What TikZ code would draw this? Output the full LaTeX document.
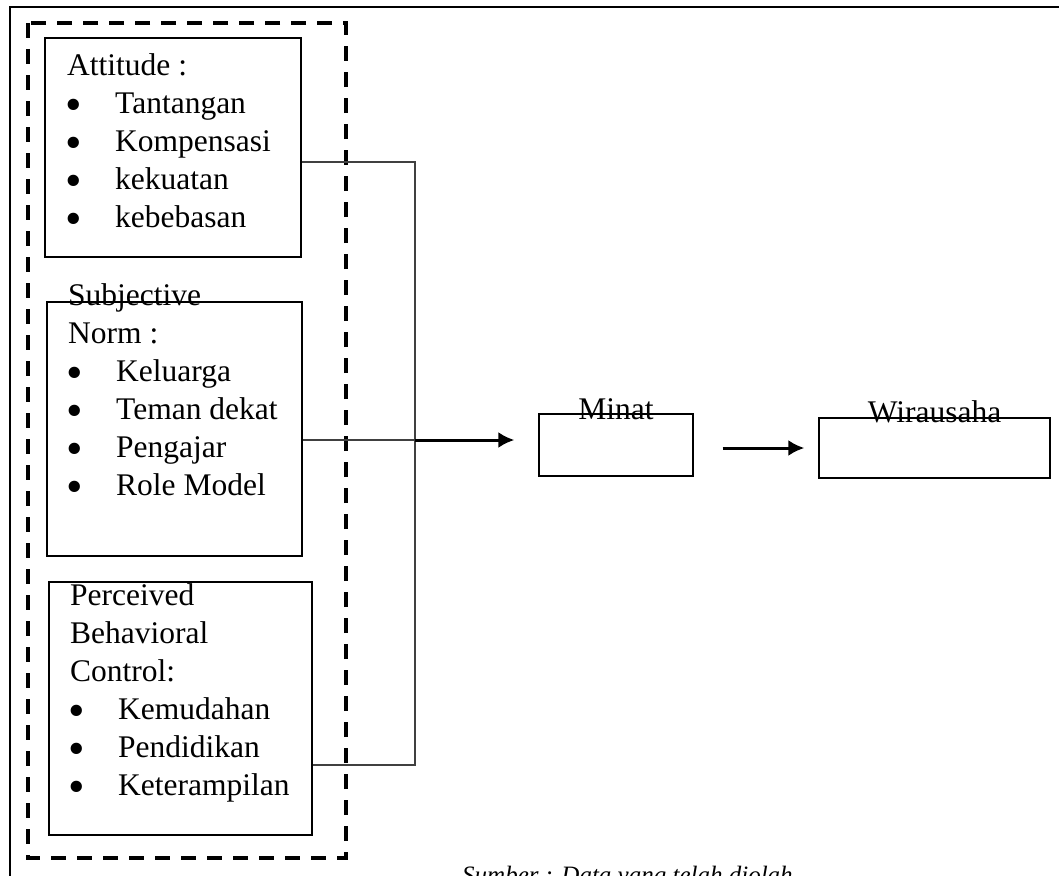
\documentclass[tikz,border=0pt]{standalone}
\usepackage{fontspec}
\usepackage{graphicx}
\setmainfont{Liberation Serif}
\usetikzlibrary{arrows.meta}
\newcommand{\itembul}{\makebox[48pt][l]{\hspace{-2pt}\raisebox{-7.5pt}[0pt][0pt]{\scalebox{1.5}{•}}}}
\begin{document}
\begin{tikzpicture}[x=1pt,y=-1pt,
  box/.style={draw, line width=1.3pt, rectangle, inner sep=0pt},
  txt/.style={inner sep=0pt, font=\fontsize{31.5}{38}\selectfont},
  conn/.style={draw=black!75, line width=1.2pt},
  arr/.style={line width=3pt, -{Latex[length=16pt,width=16pt]}},
]
\useasboundingbox (0,0) rectangle (1059,875);
% outer frame
\draw[line width=2pt] (10,1000) -- (10,7) -- (1100,7);
% dashed group
\draw[line width=4pt, dash pattern=on 15pt off 11pt] (28,23) rectangle (346,858);
% boxes
\node[box, minimum width=256pt, minimum height=219pt] (att) at (173,147.5) {};
\node[box, minimum width=255pt, minimum height=254pt] (subj) at (174.5,429) {};
\node[box, minimum width=263pt, minimum height=253pt] (perc) at (180.5,708.5) {};
\node[box, minimum width=154pt, minimum height=62pt] (minat) at (616,445) {};
\node[box, minimum width=231pt, minimum height=60pt] (wira) at (934.5,448) {};
% texts
\node[txt, anchor=base west] (attT) at (67,75) {\begin{tabular}[t]{@{}l@{}}Attitude :\\ \itembul Tantangan\\ \itembul Kompensasi\\ \itembul kekuatan\\ \itembul kebebasan\end{tabular}};
\node[txt, anchor=base west] (subjT) at (68,305) {\begin{tabular}[t]{@{}l@{}}Subjective\\ Norm :\\ \itembul Keluarga\\ \itembul Teman dekat\\ \itembul Pengajar\\ \itembul Role Model\end{tabular}};
\node[txt, anchor=base west] (percT) at (70,605) {\begin{tabular}[t]{@{}l@{}}Perceived\\ Behavioral\\ Control:\\ \itembul Kemudahan\\ \itembul Pendidikan\\ \itembul Keterampilan\end{tabular}};
\node[txt, anchor=base] (minatT) at (616,419) {Minat};
\node[txt, anchor=base] (wiraT) at (934.5,422) {Wirausaha};
% connectors
\coordinate (j1) at (415,162);
\coordinate (j2) at (415,440);
\coordinate (j3) at (415,765);
\draw[conn] (att.east |- j1) -- (j1) -- (j3) -- (perc.east |- j3);
\draw[conn] (subj.east |- j2) -- (j2);
\draw[arr, shorten >=24pt] (j2) -- (minat.west |- j2);
\draw[arr, shorten <=29pt, shorten >=14pt] (minat.east |- wira.west) -- (wira.west);
% source caption (cut by page edge)
\node[inner sep=0pt, anchor=base west, font=\fontsize{25}{30}\selectfont\itshape] (src) at (462,883) {Sumber : Data yang telah diolah};
\end{tikzpicture}
\end{document}
